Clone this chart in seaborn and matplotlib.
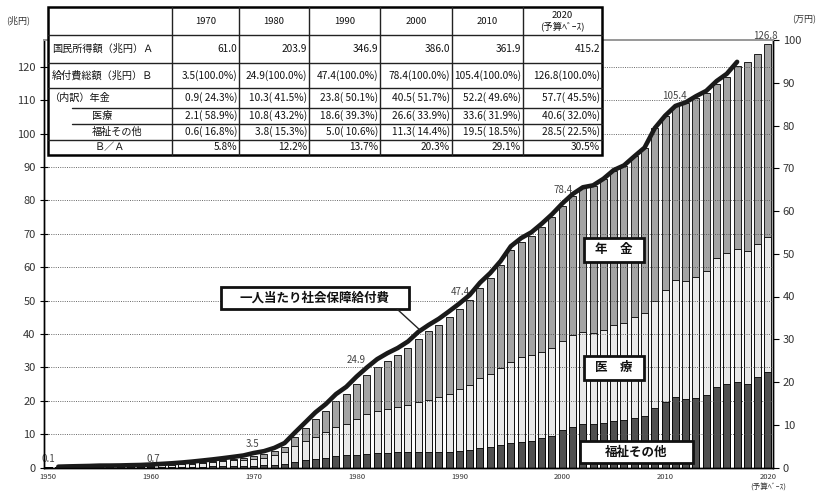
import matplotlib
matplotlib.use("Agg")
import numpy as np
import pandas as pd
import matplotlib.pyplot as plt
import seaborn as sns
from matplotlib.patches import Rectangle

# ---------------- data ----------------
years = list(range(1950, 2021))
pension = [0.00, 0.00, 0.01, 0.01, 0.02, 0.02, 0.03, 0.04, 0.05, 0.06,
           0.09, 0.11, 0.14, 0.18, 0.22, 0.26, 0.30, 0.35, 0.41, 0.49,
           0.86, 1.04, 1.28, 1.72, 2.71, 3.88, 5.33, 6.44, 7.61, 8.76,
           10.33, 11.71, 13.13, 14.40, 15.50, 16.85, 18.96, 20.43, 21.54, 22.90,
           23.78, 25.29, 27.18, 28.70, 30.80, 33.30, 34.50, 35.80, 37.60, 39.20,
           40.50, 41.60, 43.00, 44.00, 45.20, 46.30, 47.00, 48.20, 49.50, 51.70,
           52.20, 52.00, 53.10, 53.80, 53.20, 52.20, 52.80, 54.80, 56.80, 56.80,
           57.70]
medical = [0.065, 0.08, 0.11, 0.14, 0.16, 0.20, 0.21, 0.22, 0.27, 0.30,
           0.41, 0.50, 0.59, 0.72, 0.87, 1.05, 1.23, 1.44, 1.66, 1.88,
           2.06, 2.25, 2.77, 3.41, 4.73, 5.71, 6.65, 7.53, 8.77, 9.54,
           10.77, 11.77, 12.60, 13.19, 13.58, 14.29, 15.09, 15.79, 16.60, 17.46,
           18.65, 19.61, 20.91, 22.00, 23.10, 24.30, 25.30, 25.70, 25.60, 26.40,
           26.60, 27.70, 27.60, 27.30, 27.70, 28.60, 29.10, 30.30, 30.90, 32.10,
           33.60, 35.10, 35.50, 36.20, 37.20, 38.50, 39.10, 39.70, 39.70, 39.70,
           40.60]
welfare = [0.061, 0.075, 0.10, 0.12, 0.14, 0.17, 0.17, 0.18, 0.18, 0.19,
           0.15, 0.18, 0.20, 0.22, 0.25, 0.29, 0.34, 0.39, 0.45, 0.51,
           0.59, 0.73, 0.88, 1.11, 1.58, 2.19, 2.60, 2.95, 3.40, 3.62,
           3.80, 4.10, 4.36, 4.39, 4.54, 4.54, 4.53, 4.52, 4.57, 4.66,
           4.99, 5.19, 5.75, 6.14, 6.62, 7.42, 7.70, 7.90, 8.86, 9.42,
           11.27, 12.10, 13.00, 13.00, 13.40, 14.00, 14.30, 14.70, 15.40, 17.90,
           19.50, 21.00, 20.40, 20.70, 21.70, 24.20, 25.00, 25.70, 25.00, 27.20,
           28.50]

line_years = list(range(1951, 2018))
per_capita = [0.19, 0.26, 0.31, 0.36, 0.44, 0.45, 0.48, 0.54, 0.59, 0.70,
              0.84, 0.98, 1.16, 1.38, 1.63, 1.89, 2.18, 2.49, 2.81, 3.39,
              3.82, 4.58, 5.72, 8.16, 10.52, 12.89, 14.82, 17.17, 18.87, 21.26,
              23.39, 25.34, 26.75, 27.95, 29.48, 31.71, 33.33, 34.79, 36.54, 38.36,
              40.36, 43.22, 45.49, 48.27, 51.75, 53.66, 55.02, 57.03, 59.23, 61.74,
              63.94, 65.54, 66.00, 67.53, 69.56, 70.66, 72.77, 74.81, 79.40, 82.28,
              84.57, 85.41, 86.85, 88.10, 90.38, 92.10, 94.89]

label_years = [1950, 1960, 1970, 1980, 1990, 2000, 2010, 2020]
label_texts = ["0.1", "0.7", "3.5", "24.9", "47.4", "78.4", "105.4", "126.8"]

xtick_years = [1950, 1960, 1970, 1980, 1990, 2000, 2010, 2020]
xtick_labels = ["1950", "1960", "1970", "1980", "1990", "2000", "2010", "2020\n(予算ﾍﾞｰｽ)"]

table_header = ["1970", "1980", "1990", "2000", "2010", "2020\n(予算ﾍﾞｰｽ)"]
row_labels = ["国民所得額（兆円）Ａ", "給付費総額（兆円）Ｂ", "（内訳）年金", "医療", "福祉その他", "Ｂ／Ａ"]
national_income = ["61.0", "203.9", "346.9", "386.0", "361.9", "415.2"]
benefit_total = ["3.5(100.0%)", "24.9(100.0%)", "47.4(100.0%)", "78.4(100.0%)", "105.4(100.0%)", "126.8(100.0%)"]
pension_row = ["0.9( 24.3%)", "10.3( 41.5%)", "23.8( 50.1%)", "40.5( 51.7%)", "52.2( 49.6%)", "57.7( 45.5%)"]
medical_row = ["2.1( 58.9%)", "10.8( 43.2%)", "18.6( 39.3%)", "26.6( 33.9%)", "33.6( 31.9%)", "40.6( 32.0%)"]
welfare_row = ["0.6( 16.8%)", "3.8( 15.3%)", "5.0( 10.6%)", "11.3( 14.4%)", "19.5( 18.5%)", "28.5( 22.5%)"]
ratio_row = ["5.8%", "12.2%", "13.7%", "20.3%", "29.1%", "30.5%"]

# ---------------- style ----------------
sns.set_theme(style="white")
plt.rcParams["font.family"] = ["Noto Sans CJK JP", "DejaVu Sans"]

C_PEN = "#a4a4a4"
C_MED = "#e8e8e8"
C_WEL = "#505050"
TXT = "#333333"

W, H = 827, 496
fig = plt.figure(figsize=(W / 100, H / 100), dpi=100)
ax_left, ax_right, ax_top, ax_bot = 44, 773, 40, 467.5
ax = fig.add_axes([ax_left / W, (H - ax_bot) / H, (ax_right - ax_left) / W, (ax_bot - ax_top) / H])

df = pd.DataFrame({"year": years, "pension": pension, "medical": medical, "welfare": welfare})
df["total"] = df["pension"] + df["medical"] + df["welfare"]
df["medwel"] = df["medical"] + df["welfare"]

bar_kw = dict(native_scale=True, saturation=1, edgecolor="black", linewidth=0.6,
              width=0.68, errorbar=None, ax=ax)
sns.barplot(data=df, x="year", y="total", color=C_PEN, **bar_kw)
sns.barplot(data=df, x="year", y="medwel", color=C_MED, **bar_kw)
sns.barplot(data=df, x="year", y="welfare", color=C_WEL, **bar_kw)

ax.set_xlim(1949.61, 2020.49)
ax.set_ylim(0, 128.0)
ax.set_xlabel("")
ax.set_ylabel("")
ax.set_yticks(range(0, 130, 10))
ax.set_axisbelow(False)
ax.yaxis.grid(True, linestyle=(0, (1.2, 1.5)), color="#555555", linewidth=0.6)
ax.xaxis.grid(False)
ax.set_xticks(xtick_years)
ax.set_xticklabels(xtick_labels)
ax.tick_params(axis="x", length=0, labelsize=5.5, labelcolor=TXT, pad=4)
for lab in ax.get_xticklabels():
    lab.set_linespacing(1.45)
ax.tick_params(axis="y", direction="inout", length=6, width=0.8, color="black",
               labelsize=8, labelcolor=TXT, pad=3, left=True)

# labels above bars (offsets in pixels, upward)
label_offsets = [(0, 8), (2, 6), (-1, 12), (0, 24), (1, 17), (1, 16), (9, 20), (-3, 8)]
tot_map = dict(zip(df["year"], df["total"]))
for yr, txt, (dx, dy) in zip(label_years, label_texts, label_offsets):
    ax.annotate(txt, (yr, tot_map[yr]), xytext=(dx, dy), textcoords="offset pixels",
                ha="center", va="center", fontsize=7, color="#444444", zorder=6,
                annotation_clip=False)

# line on right axis
ax2 = ax.twinx()
sns.lineplot(x=line_years, y=per_capita, ax=ax2, color="#1a1a1a", linewidth=3.3,
             solid_capstyle="round", solid_joinstyle="round")
ax2.set_ylim(0, 100)
ax2.set_yticks(range(0, 101, 10))
ax2.tick_params(axis="y", direction="out", length=4, width=0.8, color="black",
                labelsize=8, labelcolor=TXT, pad=3, right=True)
ax2.set_ylabel("")

for a in (ax, ax2):
    a.spines["top"].set_color("#9a9a9a")
    a.spines["top"].set_linewidth(1.4)
    for s in ("left", "right", "bottom"):
        a.spines[s].set_color("black")
        a.spines[s].set_linewidth(1.0)

# ---------------- overlay (table, boxes, units) ----------------
ov = fig.add_axes([0, 0, 1, 1], zorder=10)
ov.set_xlim(0, W)
ov.set_ylim(H, 0)
ov.axis("off")

ov.text(18, 20, "(兆円)", fontsize=6.5, color=TXT, ha="center", va="center")
ov.text(804, 20, "(万円)", fontsize=6.5, color=TXT, ha="center", va="center")

col_edges = [48, 172, 239, 309, 380, 452, 523, 602]
row_edges = [7, 35, 63, 88, 107.5, 123.5, 139.5, 155]
ov.add_patch(Rectangle((col_edges[0], row_edges[0]), col_edges[-1] - col_edges[0],
                       row_edges[-1] - row_edges[0], facecolor="white", edgecolor="none"))
for i, xe in enumerate(col_edges[1:-1]):
    ov.plot([xe, xe], [row_edges[0], row_edges[-1]], color="#222222", lw=1.0)
for j, ye in enumerate(row_edges[1:-1]):
    x0 = 72 if j in (3, 4) else col_edges[0]
    ov.plot([x0, col_edges[-1]], [ye, ye], color="#222222", lw=1.0)
ov.add_patch(Rectangle((col_edges[0], row_edges[0]), col_edges[-1] - col_edges[0],
                       row_edges[-1] - row_edges[0], facecolor="none", edgecolor="black", lw=1.8))

TF = 7.3
for k, hdr in enumerate(table_header):
    cx = (col_edges[k + 1] + col_edges[k + 2]) / 2
    ov.text(cx, (row_edges[0] + row_edges[1]) / 2, hdr, fontsize=TF - 0.5, ha="center",
            va="center", color="#111111", linespacing=1.1)

label_x = [52, 52, 50, 92, 92, 110]
for r, lab in enumerate(row_labels):
    cy = (row_edges[r + 1] + row_edges[r + 2]) / 2
    ha = "center" if r == 5 else "left"
    ov.text(label_x[r], cy, lab, fontsize=TF, ha=ha, va="center", color="#111111")

rows = [national_income, benefit_total, pension_row, medical_row, welfare_row, ratio_row]
for r, vals in enumerate(rows):
    cy = (row_edges[r + 1] + row_edges[r + 2]) / 2
    for k, v in enumerate(vals):
        ov.text(col_edges[k + 2] - 2, cy, v, fontsize=TF, ha="right", va="center", color="#111111")

# labelled boxes
boxes = [((584, 238, 644, 262), "年　金"),
         ((584, 356, 644, 380), "医　療"),
         ((580, 441, 693, 463), "福祉その他"),
         ((221, 287, 409, 309), "一人当たり社会保障給付費")]
ov.plot([397, 421], [309, 331], color="#222222", lw=1.0)
for (x0, y0, x1, y1), txt in boxes:
    ov.add_patch(Rectangle((x0, y0), x1 - x0, y1 - y0, facecolor="white",
                           edgecolor="#111111", lw=2.0))
    ov.text((x0 + x1) / 2, (y0 + y1) / 2, txt, fontsize=9, fontweight="bold",
            ha="center", va="center", color="#111111")

fig.savefig("out.png", dpi=100)
